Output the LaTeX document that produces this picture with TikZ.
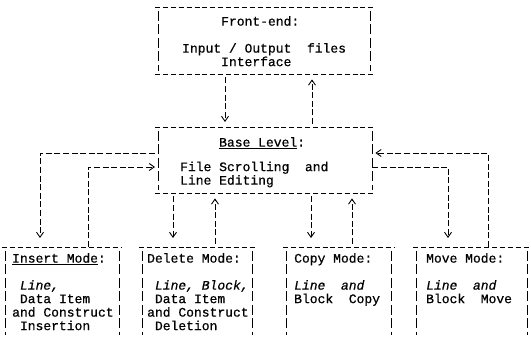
\documentclass[tikz,border=0pt]{standalone}
\usepackage{fontspec}
\setmonofont[UprightFeatures={FakeBold=0.6}, ItalicFeatures={FakeBold=0.6}]{Liberation Mono}
\usetikzlibrary{arrows.meta}
\tikzset{
  hdash/.style={line width=0.9pt, dash pattern=on 5pt off 2.9pt, shorten <=-3pt, shorten >=-3pt},
  vdash/.style={line width=0.9pt, dash pattern=on 10pt off 3.5pt, shorten <=4pt},
  link/.style={line width=0.9pt, dash pattern=on 6pt off 2.6pt, shorten <=3pt, shorten >=5pt,
    -{Straight Barb[length=5pt,width=7pt]}},
  box/.style={inner sep=0pt, anchor=north west},
  txt/.style={inner sep=0pt, anchor=north west, align=left,
    font=\ttfamily\fontsize{13}{13.5}\selectfont},
}
\begin{document}
\begin{tikzpicture}[x=1pt,y=-1pt]
\useasboundingbox (0,0) rectangle (531,339);

% Boxes
\node[box, minimum width=212pt, minimum height=67pt] (front) at (158,7) {};
\node[box, minimum width=214pt, minimum height=66pt] (base) at (158,127) {};
\node[box, minimum width=114pt, minimum height=88pt] (ins) at (5,247) {};
\node[box, minimum width=110pt, minimum height=88pt] (del) at (142,247) {};
\node[box, minimum width=105pt, minimum height=88pt] (cpy) at (286,247) {};
\node[box, minimum width=111pt, minimum height=88pt] (mov) at (416,247) {};

\foreach \n in {front,base}{
  \draw[hdash] (\n.north west) -- (\n.north east);
  \draw[hdash] (\n.south west) -- (\n.south east);
  \draw[vdash, shorten >=3pt] (\n.north west) -- (\n.south west);
  \draw[vdash, shorten >=3pt] (\n.north east) -- (\n.south east);
}
\foreach \n in {ins,del,cpy,mov}{
  \draw[hdash] (\n.north west) -- (\n.north east);
  \draw[vdash] (\n.north west) -- (\n.south west);
  \draw[vdash] (\n.north east) -- (\n.south east);
}

% Text Node
\node[txt] (frontTxt) at (182,16) {~~~~~Front-end:\\[13.5pt]Input / Output~~files\\~~~~~Interface};
% Text Node
\node[txt] (baseTxt) at (180,137) {~~~~~\underline{Base Level}:\\[11pt]File Scrolling~~and\\Line Editing};
% Text Node
\node[txt] (insTxt) at (12,253) {\underline{Insert Mode}:\\[13.5pt]~\textit{Line,}\\~Data Item\\and Construct\\~Insertion};
% Text Node
\node[txt] (delTxt) at (147,253) {Delete Mode:\\[13.5pt]~\textit{Line, Block,}\\~Data Item\\and Construct\\~Deletion};
% Text Node
\node[txt] (cpyTxt) at (294,253) {Copy Mode:\\[13.5pt]\textit{Line~~and}\\Block~~Copy};
% Text Node
\node[txt] (movTxt) at (426,253) {Move Mode:\\[13.5pt]\textit{Line~~and}\\Block~~Move};

% Front-end <-> Base Level
\draw[link] (225,0 |- front.south) -- (225,0 |- base.north);
\draw[link] (312,0 |- base.north) -- (312,0 |- front.south);

% Base Level <-> Insert Mode
\draw[link, shorten >=9pt] (base.west |- 0,153) -| (40,0 |- ins.north);
\draw[link, shorten >=3pt, shorten <=0pt] (88,0 |- ins.north) |- (base.west |- 0,167);

% Base Level <-> Delete Mode
\draw[link, shorten >=9pt] (173,0 |- base.south) -- (173,0 |- del.north);
\draw[link] (215,0 |- del.north) -- (215,0 |- base.south);

% Base Level <-> Copy Mode
\draw[link, shorten >=9pt] (311,0 |- base.south) -- (311,0 |- cpy.north);
\draw[link] (352,0 |- cpy.north) -- (352,0 |- base.south);

% Base Level <-> Move Mode
\draw[link, shorten >=9pt, shorten <=0pt] (base.east |- 0,167) -| (448,0 |- mov.north);
\draw[link, shorten >=3pt, shorten <=0pt] (488,0 |- mov.north) |- (base.east |- 0,153);

\end{tikzpicture}
\end{document}
